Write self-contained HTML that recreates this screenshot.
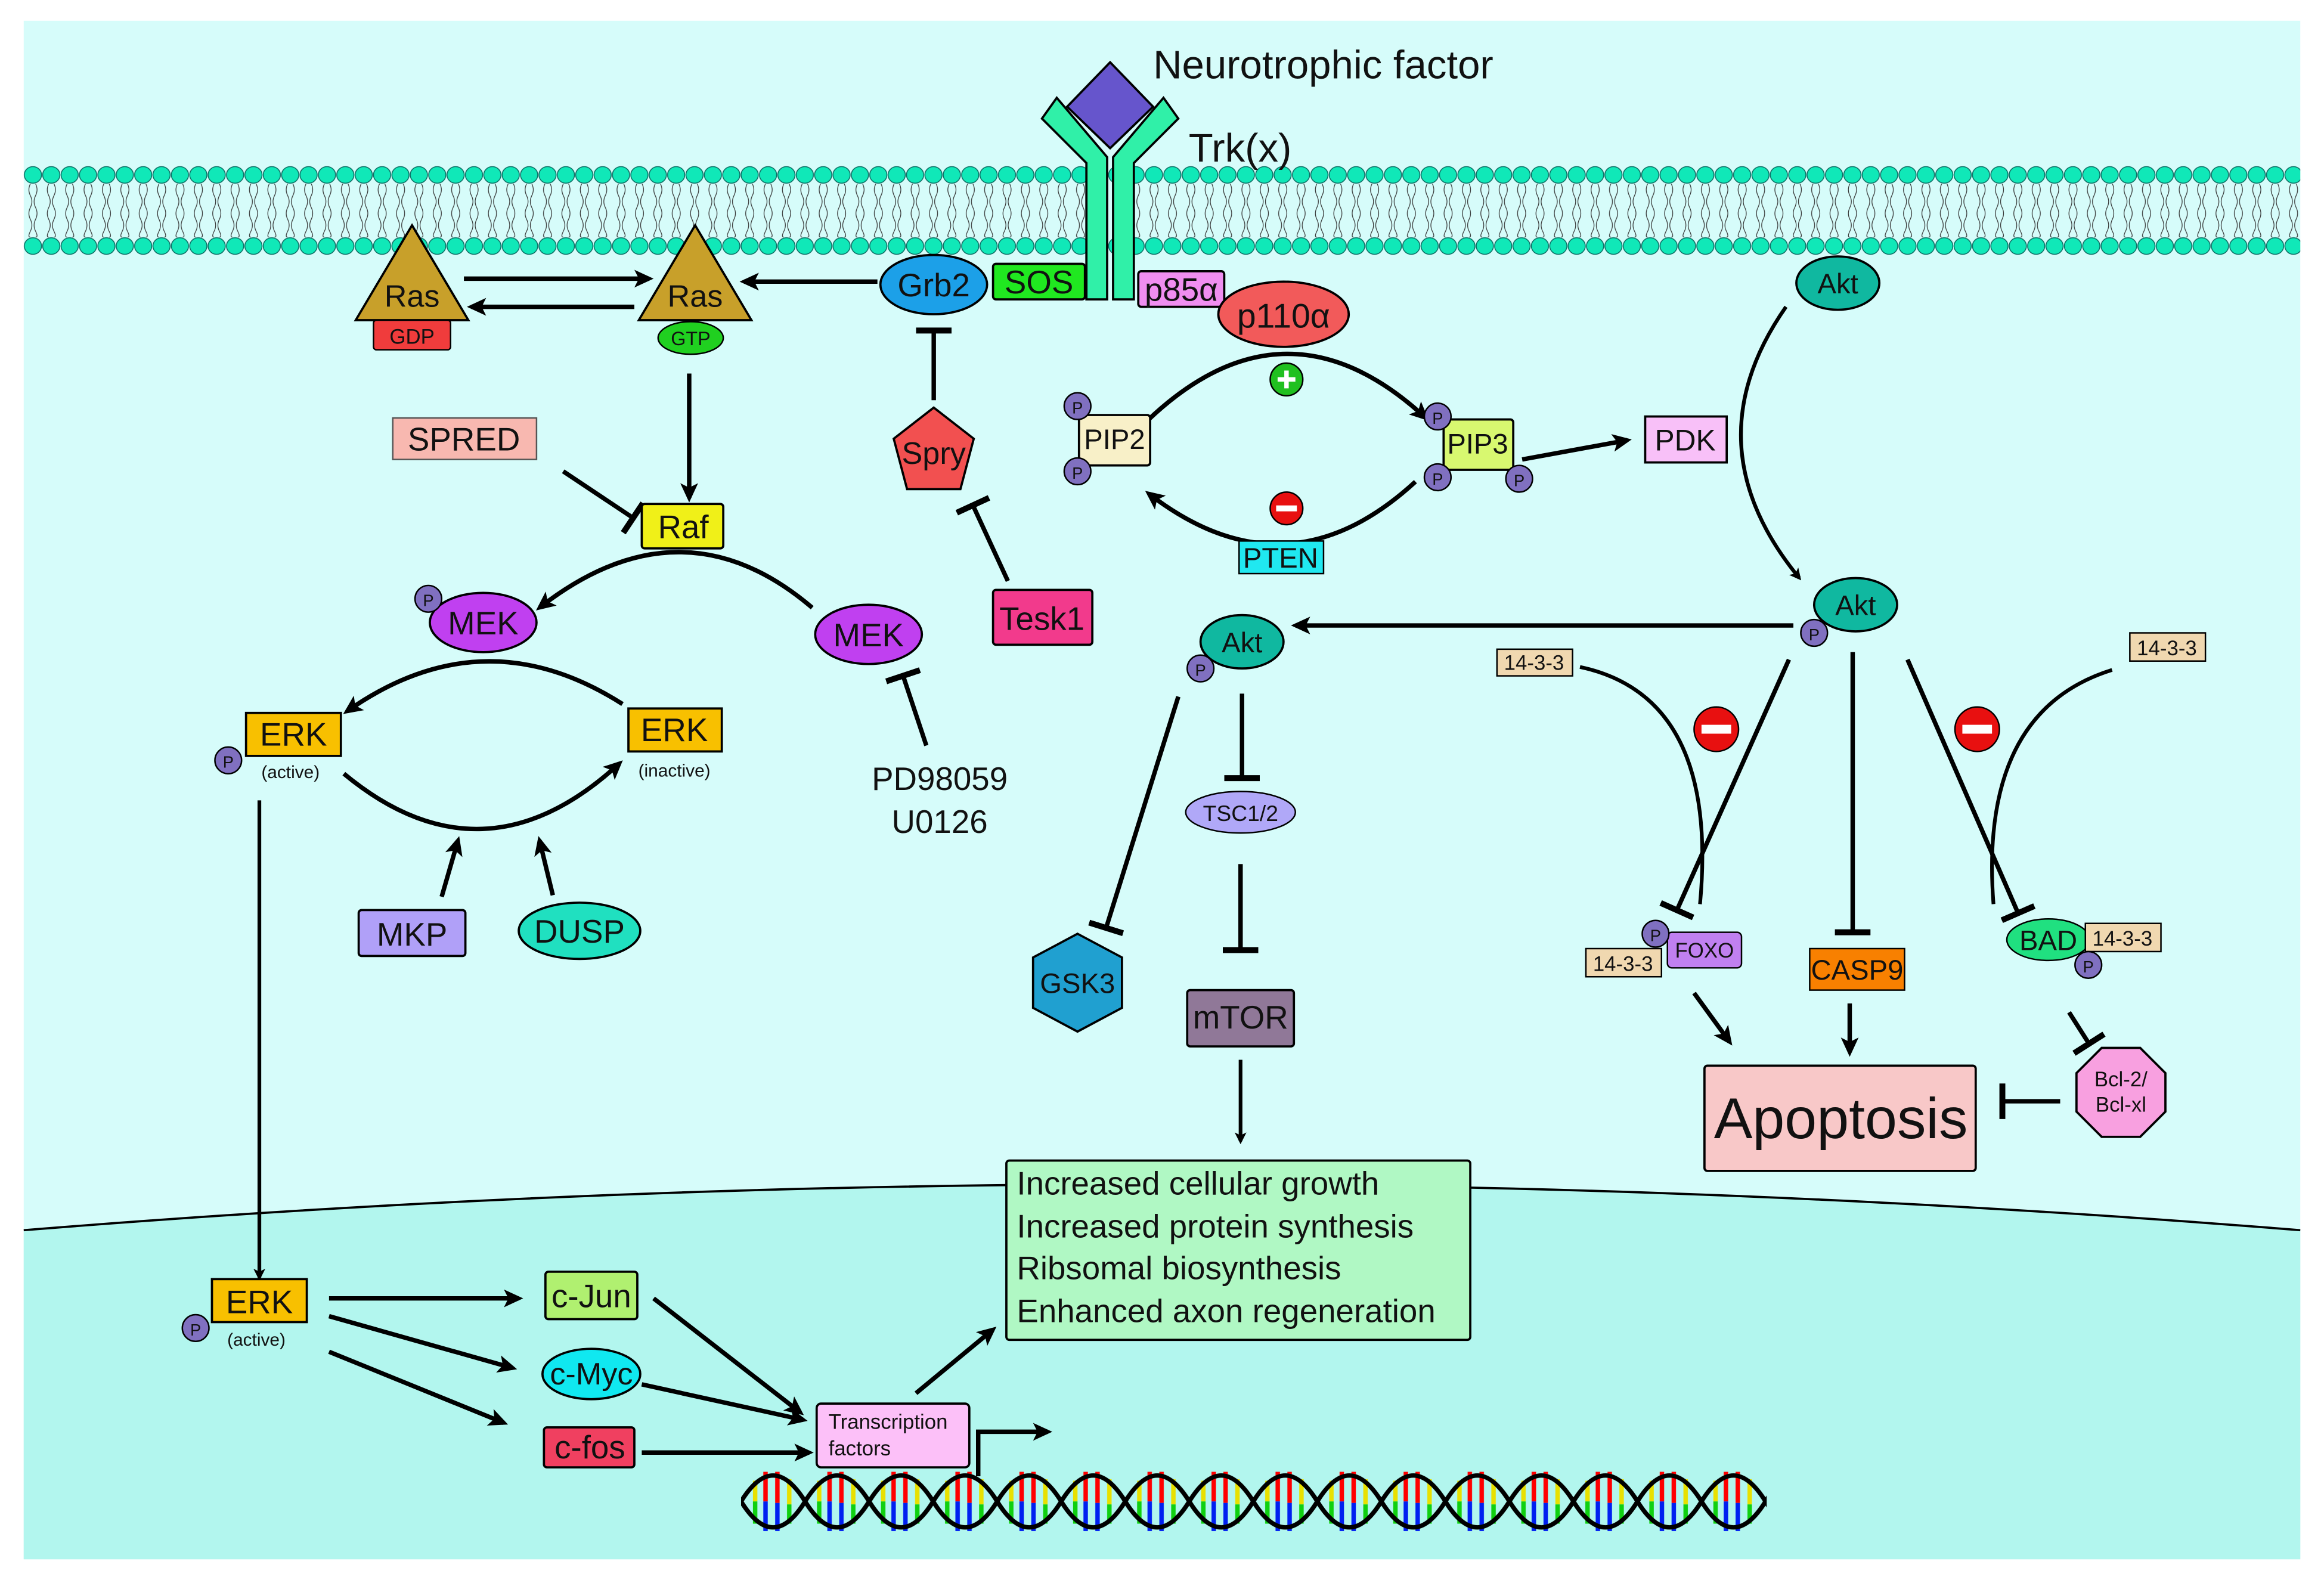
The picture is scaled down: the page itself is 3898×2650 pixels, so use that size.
<!DOCTYPE html>
<html><head><meta charset="utf-8"><style>
html,body{margin:0;padding:0;background:#fff}
svg{display:block}
text{font-family:"Liberation Sans Narrow","Liberation Sans",sans-serif;fill:#111}
</style></head><body>
<svg width="3898" height="2650" viewBox="0 0 1568 1066" preserveAspectRatio="none" xmlns="http://www.w3.org/2000/svg">
<defs>
<marker id="ar" markerWidth="8" markerHeight="8" refX="6" refY="4" orient="auto" markerUnits="userSpaceOnUse"><path d="M0,0 L8,4 L0,8 L2,4 Z" fill="#000"/></marker>
<marker id="ab" markerWidth="14" markerHeight="14" refX="10" refY="7" orient="auto" markerUnits="userSpaceOnUse"><path d="M0,1 L13,7 L0,13 L3,7 Z" fill="#000"/></marker>
<marker id="bar" markerWidth="6" markerHeight="24" refX="3" refY="12" orient="auto" markerUnits="userSpaceOnUse"><rect x="0" y="0" width="4" height="24" fill="#000"/></marker>
<pattern id="heads" x="16" y="112" width="12.4" height="60" patternUnits="userSpaceOnUse">
<ellipse cx="6.2" cy="6" rx="5.8" ry="5.6" fill="#10e8b8" stroke="#0a6a60" stroke-width="0.6"/>
<ellipse cx="6.2" cy="54" rx="5.8" ry="5.6" fill="#10e8b8" stroke="#0a6a60" stroke-width="0.6"/>
<path d="M4.5,12 q-2,4 0,8 t0,8 t0,8 t0,8 t0,4 M8,12 q2,4 0,8 t0,8 t0,8 t0,8 t0,4" fill="none" stroke="#333" stroke-width="0.5"/>
</pattern>
<pattern id="dna" x="500" y="989" width="43.2" height="48" patternUnits="userSpaceOnUse">
<rect x="8" y="10" width="3" height="14" fill="#e8e000"/><rect x="8" y="24" width="3" height="15" fill="#10d010"/>
<rect x="15" y="4" width="3" height="20" fill="#f00"/><rect x="15" y="24" width="3" height="20" fill="#0020f0"/>
<rect x="23" y="4" width="3" height="21" fill="#f00"/><rect x="23" y="25" width="3" height="19" fill="#0020f0"/>
<rect x="31" y="9" width="3" height="17" fill="#e8e000"/><rect x="31" y="26" width="3" height="13" fill="#10d010"/>
<path d="M0,24 Q21.6,-11 43.2,24 M0,24 Q21.6,59 43.2,24" fill="none" stroke="#000" stroke-width="3"/>
</pattern>
</defs>
<rect width="1568" height="1066" fill="#fff"/>
<rect x="16" y="14" width="1536" height="1038" fill="#d6fcfa"/>
<path d="M16,830 Q784,768 1552,830 L1552,1052 L16,1052 Z" fill="#b2f6ee"/>
<path d="M16,830 Q784,768 1552,830" fill="none" stroke="#000" stroke-width="1.5"/>
<rect x="16" y="112" width="1536" height="60" fill="url(#heads)"/>

<!-- receptor -->
<path d="M749,42 L778,72 L749,100 L720,72 Z" fill="#6655cc" stroke="#000" stroke-width="1.5"/>
<path d="M733,202 V110 L703,80 L713,66 L747,106 V202 Z" fill="#30f0a8" stroke="#000" stroke-width="1.5"/>
<path d="M765,202 V110 L795,80 L785,66 L751,106 V202 Z" fill="#30f0a8" stroke="#000" stroke-width="1.5"/>
<text x="778" y="53" font-size="27">Neurotrophic factor</text>
<text x="802" y="109" font-size="27">Trk(x)</text>

<!-- Ras -->
<path d="M278,152 L316,216 L240,216 Z" fill="#c8a02a" stroke="#000" stroke-width="1.5"/>
<text x="278" y="207" font-size="21" text-anchor="middle">Ras</text>
<rect x="252" y="216" width="52" height="20" rx="2" fill="#f03c3c" stroke="#000"/>
<text x="278" y="232" font-size="14" text-anchor="middle">GDP</text>
<path d="M469,152 L507,216 L431,216 Z" fill="#c8a02a" stroke="#000" stroke-width="1.5"/>
<text x="469" y="207" font-size="21" text-anchor="middle">Ras</text>
<ellipse cx="466" cy="228" rx="22" ry="11" fill="#20d020" stroke="#000"/>
<text x="466" y="233" font-size="13" text-anchor="middle">GTP</text>
<line x1="313" y1="188" x2="438" y2="188" stroke="#000" stroke-width="3" marker-end="url(#ab)"/>
<line x1="428" y1="207" x2="318" y2="207" stroke="#000" stroke-width="3" marker-end="url(#ab)"/>
<line x1="592" y1="190" x2="502" y2="190" stroke="#000" stroke-width="3" marker-end="url(#ab)"/>

<ellipse cx="630" cy="192" rx="36" ry="20" fill="#1ca0e8" stroke="#000" stroke-width="1.5"/>
<text x="630" y="200" font-size="22" text-anchor="middle">Grb2</text>
<rect x="670" y="178" width="62" height="24" rx="2" fill="#20e820" stroke="#000" stroke-width="1.5"/>
<text x="701" y="198" font-size="22" text-anchor="middle">SOS</text>
<rect x="768" y="183" width="58" height="24" rx="2" fill="#f08ef0" stroke="#000" stroke-width="1.5"/>
<text x="797" y="203" font-size="22" text-anchor="middle">p85α</text>
<ellipse cx="866" cy="212" rx="44" ry="22" fill="#f25a5a" stroke="#000" stroke-width="1.5"/>
<text x="866" y="221" font-size="23" text-anchor="middle">p110α</text>

<!-- Spry / Tesk1 -->
<path d="M630,275 L657,296 L648,330 L612,330 L603,296 Z" fill="#f25050" stroke="#000" stroke-width="1.5"/>
<text x="630" y="313" font-size="21" text-anchor="middle">Spry</text>
<line x1="630" y1="270" x2="630" y2="222" stroke="#000" stroke-width="3" marker-end="url(#bar)"/>
<rect x="670" y="398" width="67" height="37" rx="2" fill="#f23a8c" stroke="#000" stroke-width="1.5"/>
<text x="703" y="425" font-size="22" text-anchor="middle">Tesk1</text>
<line x1="680" y1="392" x2="656" y2="340" stroke="#000" stroke-width="3" marker-end="url(#bar)"/>

<rect x="265" y="282" width="97" height="28" fill="#f8b8b0" stroke="#555"/>
<text x="313" y="304" font-size="22" text-anchor="middle">SPRED</text>
<line x1="380" y1="318" x2="428" y2="350" stroke="#000" stroke-width="3" marker-end="url(#bar)"/>
<line x1="465" y1="252" x2="465" y2="336" stroke="#000" stroke-width="3" marker-end="url(#ab)"/>
<rect x="433" y="340" width="55" height="30" rx="2" fill="#f0f018" stroke="#000" stroke-width="1.5"/>
<text x="461" y="363" font-size="22" text-anchor="middle">Raf</text>

<path d="M548,410 Q460,335 364,410" fill="none" stroke="#000" stroke-width="3" marker-end="url(#ab)"/>
<ellipse cx="326" cy="420" rx="36" ry="20" fill="#c040f0" stroke="#000" stroke-width="1.5"/>
<text x="326" y="428" font-size="22" text-anchor="middle">MEK</text>
<circle cx="289" cy="404" r="9" fill="#8070c0" stroke="#000"/><text x="289" y="409" font-size="11" text-anchor="middle">P</text>
<ellipse cx="586" cy="428" rx="36" ry="20" fill="#c040f0" stroke="#000" stroke-width="1.5"/>
<text x="586" y="436" font-size="22" text-anchor="middle">MEK</text>
<text x="634" y="533" font-size="22" text-anchor="middle">PD98059</text>
<text x="634" y="562" font-size="22" text-anchor="middle">U0126</text>
<line x1="625" y1="503" x2="609" y2="455" stroke="#000" stroke-width="3" marker-end="url(#bar)"/>

<path d="M420,475 Q326,415 234,480" fill="none" stroke="#000" stroke-width="3" marker-end="url(#ab)"/>
<path d="M232,522 Q326,600 418,515" fill="none" stroke="#000" stroke-width="3" marker-end="url(#ab)"/>
<rect x="166" y="481" width="64" height="29" fill="#f8c000" stroke="#000" stroke-width="1.5"/>
<text x="198" y="503" font-size="22" text-anchor="middle">ERK</text>
<text x="196" y="525" font-size="12" text-anchor="middle">(active)</text>
<circle cx="154" cy="513" r="9" fill="#8070c0" stroke="#000"/><text x="154" y="518" font-size="11" text-anchor="middle">P</text>
<rect x="424" y="478" width="63" height="29" fill="#f8c000" stroke="#000" stroke-width="1.5"/>
<text x="455" y="500" font-size="22" text-anchor="middle">ERK</text>
<text x="455" y="524" font-size="12" text-anchor="middle">(inactive)</text>
<line x1="298" y1="605" x2="309" y2="567" stroke="#000" stroke-width="3" marker-end="url(#ab)"/>
<line x1="373" y1="604" x2="364" y2="567" stroke="#000" stroke-width="3" marker-end="url(#ab)"/>
<rect x="242" y="614" width="72" height="31" rx="2" fill="#b0a0f8" stroke="#000" stroke-width="1.5"/>
<text x="278" y="638" font-size="22" text-anchor="middle">MKP</text>
<ellipse cx="391" cy="628" rx="41" ry="19" fill="#20e0c0" stroke="#000" stroke-width="1.5"/>
<text x="391" y="636" font-size="22" text-anchor="middle">DUSP</text>

<!-- nucleus -->
<line x1="175" y1="540" x2="175" y2="862" stroke="#000" stroke-width="2.5" marker-end="url(#ar)"/>
<rect x="143" y="863" width="64" height="29" fill="#f8c000" stroke="#000" stroke-width="1.5"/>
<text x="175" y="886" font-size="22" text-anchor="middle">ERK</text>
<text x="173" y="908" font-size="12" text-anchor="middle">(active)</text>
<circle cx="132" cy="896" r="9" fill="#8070c0" stroke="#000"/><text x="132" y="901" font-size="11" text-anchor="middle">P</text>
<line x1="222" y1="876" x2="350" y2="876" stroke="#000" stroke-width="3" marker-end="url(#ab)"/>
<line x1="222" y1="888" x2="346" y2="923" stroke="#000" stroke-width="3" marker-end="url(#ab)"/>
<line x1="222" y1="912" x2="340" y2="960" stroke="#000" stroke-width="3" marker-end="url(#ab)"/>
<rect x="368" y="858" width="62" height="32" rx="2" fill="#b0f070" stroke="#000" stroke-width="1.5"/>
<text x="399" y="882" font-size="22" text-anchor="middle">c-Jun</text>
<ellipse cx="399" cy="927" rx="33" ry="17" fill="#10e8f0" stroke="#000" stroke-width="1.5"/>
<text x="399" y="934" font-size="21" text-anchor="middle">c-Myc</text>
<rect x="367" y="963" width="61" height="27" rx="2" fill="#f04060" stroke="#000" stroke-width="1.5"/>
<text x="398" y="984" font-size="22" text-anchor="middle">c-fos</text>
<line x1="441" y1="876" x2="540" y2="953" stroke="#000" stroke-width="3" marker-end="url(#ab)"/>
<line x1="433" y1="934" x2="542" y2="958" stroke="#000" stroke-width="3" marker-end="url(#ab)"/>
<line x1="433" y1="980" x2="546" y2="980" stroke="#000" stroke-width="3" marker-end="url(#ab)"/>
<line x1="618" y1="940" x2="670" y2="897" stroke="#000" stroke-width="3" marker-end="url(#ab)"/>
<rect x="500" y="989" width="692" height="48" fill="url(#dna)"/>
<rect x="551" y="947" width="103" height="43" rx="3" fill="#fcc0f8" stroke="#000" stroke-width="1.5"/>
<text x="559" y="964" font-size="14">Transcription</text>
<text x="559" y="982" font-size="14">factors</text>
<path d="M660,996 L660,966 L707,966" fill="none" stroke="#000" stroke-width="3" marker-end="url(#ab)"/>

<rect x="679" y="783" width="313" height="121" rx="2" fill="#b0f8c4" stroke="#000" stroke-width="1.5"/>
<text x="686" y="806" font-size="22">Increased cellular growth</text>
<text x="686" y="835" font-size="22">Increased protein synthesis</text>
<text x="686" y="863" font-size="22">Ribsomal biosynthesis</text>
<text x="686" y="892" font-size="22">Enhanced axon regeneration</text>

<!-- PI3K cycle -->
<path d="M775,283 Q868,195 962,282" fill="none" stroke="#000" stroke-width="3" marker-end="url(#ab)"/>
<path d="M955,325 Q868,405 775,333" fill="none" stroke="#000" stroke-width="3" marker-end="url(#ab)"/>
<circle cx="868" cy="256" r="11" fill="#20c020" stroke="#000"/><path d="M862,256 H874 M868,250 V262" stroke="#fff" stroke-width="3"/>
<circle cx="868" cy="343" r="11" fill="#e81010" stroke="#000"/><rect x="861" y="341" width="14" height="4" fill="#fff"/>
<rect x="836" y="365" width="57" height="22" fill="#20e8f0" stroke="#000"/>
<text x="864" y="383" font-size="19" text-anchor="middle">PTEN</text>
<rect x="728" y="280" width="48" height="34" rx="2" fill="#f8f0c8" stroke="#000" stroke-width="1.5"/>
<text x="752" y="303" font-size="19" text-anchor="middle">PIP2</text>
<circle cx="727" cy="274" r="9" fill="#8070c0" stroke="#000"/><text x="727" y="279" font-size="11" text-anchor="middle">P</text>
<circle cx="727" cy="318" r="9" fill="#8070c0" stroke="#000"/><text x="727" y="323" font-size="11" text-anchor="middle">P</text>
<rect x="974" y="283" width="47" height="34" rx="2" fill="#d8f870" stroke="#000" stroke-width="1.5"/>
<text x="997" y="306" font-size="19" text-anchor="middle">PIP3</text>
<circle cx="970" cy="281" r="9" fill="#8070c0" stroke="#000"/><text x="970" y="286" font-size="11" text-anchor="middle">P</text>
<circle cx="970" cy="322" r="9" fill="#8070c0" stroke="#000"/><text x="970" y="327" font-size="11" text-anchor="middle">P</text>
<circle cx="1025" cy="323" r="9" fill="#8070c0" stroke="#000"/><text x="1025" y="328" font-size="11" text-anchor="middle">P</text>
<line x1="1027" y1="310" x2="1098" y2="297" stroke="#000" stroke-width="3" marker-end="url(#ab)"/>
<rect x="1110" y="281" width="55" height="31" fill="#f8c0f8" stroke="#000" stroke-width="1.5"/>
<text x="1137" y="304" font-size="20" text-anchor="middle">PDK</text>

<!-- Akt -->
<ellipse cx="1240" cy="191" rx="28" ry="18" fill="#10b8a0" stroke="#000" stroke-width="1.5"/>
<text x="1240" y="198" font-size="19" text-anchor="middle">Akt</text>
<path d="M1205,207 Q1140,300 1214,390" fill="none" stroke="#000" stroke-width="2.5" marker-end="url(#ar)"/>
<ellipse cx="1252" cy="408" rx="28" ry="18" fill="#10b8a0" stroke="#000" stroke-width="1.5"/>
<text x="1252" y="415" font-size="19" text-anchor="middle">Akt</text>
<circle cx="1224" cy="427" r="9" fill="#8070c0" stroke="#000"/><text x="1224" y="432" font-size="11" text-anchor="middle">P</text>
<line x1="1210" y1="422" x2="874" y2="422" stroke="#000" stroke-width="3" marker-end="url(#ab)"/>
<ellipse cx="838" cy="433" rx="28" ry="18" fill="#10b8a0" stroke="#000" stroke-width="1.5"/>
<text x="838" y="440" font-size="19" text-anchor="middle">Akt</text>
<circle cx="810" cy="451" r="9" fill="#8070c0" stroke="#000"/><text x="810" y="456" font-size="11" text-anchor="middle">P</text>
<line x1="795" y1="470" x2="746" y2="627" stroke="#000" stroke-width="3" marker-end="url(#bar)"/>
<line x1="838" y1="468" x2="838" y2="526" stroke="#000" stroke-width="3" marker-end="url(#bar)"/>
<ellipse cx="837" cy="548" rx="37" ry="14" fill="#b0a8f8" stroke="#000"/>
<text x="837" y="554" font-size="15" text-anchor="middle">TSC1/2</text>
<line x1="837" y1="583" x2="837" y2="642" stroke="#000" stroke-width="3" marker-end="url(#bar)"/>
<rect x="801" y="668" width="72" height="38" rx="2" fill="#907898" stroke="#000" stroke-width="1.5"/>
<text x="837" y="694" font-size="22" text-anchor="middle">mTOR</text>
<line x1="837" y1="715" x2="837" y2="770" stroke="#000" stroke-width="2.5" marker-end="url(#ar)"/>
<path d="M727,630 L757,646 L757,680 L727,696 L697,680 L697,646 Z" fill="#20a0d0" stroke="#000" stroke-width="1.5"/>
<text x="727" y="670" font-size="19" text-anchor="middle">GSK3</text>

<!-- apoptosis branch -->
<rect x="1010" y="438" width="51" height="18" fill="#f0d8b0" stroke="#000"/>
<text x="1035" y="452" font-size="14" text-anchor="middle">14-3-3</text>
<path d="M1066,450 Q1160,470 1147,610" fill="none" stroke="#000" stroke-width="2.5"/>
<circle cx="1158" cy="492" r="15" fill="#e81010" stroke="#000"/><rect x="1148" y="489" width="20" height="6" fill="#fff"/>
<rect x="1437" y="427" width="51" height="19" fill="#f0d8b0" stroke="#000"/>
<text x="1462" y="442" font-size="14" text-anchor="middle">14-3-3</text>
<path d="M1425,452 Q1335,480 1345,610" fill="none" stroke="#000" stroke-width="2.5"/>
<circle cx="1334" cy="492" r="15" fill="#e81010" stroke="#000"/><rect x="1324" y="489" width="20" height="6" fill="#fff"/>
<line x1="1207" y1="445" x2="1131" y2="615" stroke="#000" stroke-width="3" marker-end="url(#bar)"/>
<line x1="1250" y1="440" x2="1250" y2="630" stroke="#000" stroke-width="3" marker-end="url(#bar)"/>
<line x1="1287" y1="445" x2="1362" y2="617" stroke="#000" stroke-width="3" marker-end="url(#bar)"/>
<rect x="1125" y="629" width="50" height="24" rx="3" fill="#c080f0" stroke="#000"/>
<text x="1150" y="646" font-size="14" text-anchor="middle">FOXO</text>
<circle cx="1117" cy="630" r="9" fill="#8070c0" stroke="#000"/><text x="1117" y="635" font-size="11" text-anchor="middle">P</text>
<rect x="1070" y="640" width="51" height="19" fill="#f0d8b0" stroke="#000"/>
<text x="1095" y="655" font-size="14" text-anchor="middle">14-3-3</text>
<rect x="1221" y="640" width="64" height="28" fill="#f88000" stroke="#000"/>
<text x="1253" y="661" font-size="19" text-anchor="middle">CASP9</text>
<ellipse cx="1382" cy="634" rx="28" ry="14" fill="#20e080" stroke="#000"/>
<text x="1382" y="641" font-size="19" text-anchor="middle">BAD</text>
<rect x="1407" y="623" width="51" height="19" fill="#f0d8b0" stroke="#000"/>
<text x="1432" y="638" font-size="14" text-anchor="middle">14-3-3</text>
<circle cx="1409" cy="651" r="9" fill="#8070c0" stroke="#000"/><text x="1409" y="656" font-size="11" text-anchor="middle">P</text>
<line x1="1143" y1="670" x2="1167" y2="703" stroke="#000" stroke-width="3" marker-end="url(#ab)"/>
<line x1="1248" y1="677" x2="1248" y2="710" stroke="#000" stroke-width="3" marker-end="url(#ab)"/>
<line x1="1396" y1="683" x2="1410" y2="705" stroke="#000" stroke-width="3" marker-end="url(#bar)"/>
<rect x="1150" y="719" width="183" height="71" rx="2" fill="#f8c8c8" stroke="#000" stroke-width="1.5"/>
<text x="1242" y="768" font-size="39" text-anchor="middle">Apoptosis</text>
<path d="M1418,707 L1444,707 L1461,724 L1461,750 L1444,767 L1418,767 L1401,750 L1401,724 Z" fill="#f8a0e0" stroke="#000" stroke-width="1.5"/>
<text x="1431" y="733" font-size="14" text-anchor="middle">Bcl-2/</text>
<text x="1431" y="750" font-size="14" text-anchor="middle">Bcl-xl</text>
<line x1="1390" y1="743" x2="1350" y2="743" stroke="#000" stroke-width="3" marker-end="url(#bar)"/>
</svg>
</body></html>
